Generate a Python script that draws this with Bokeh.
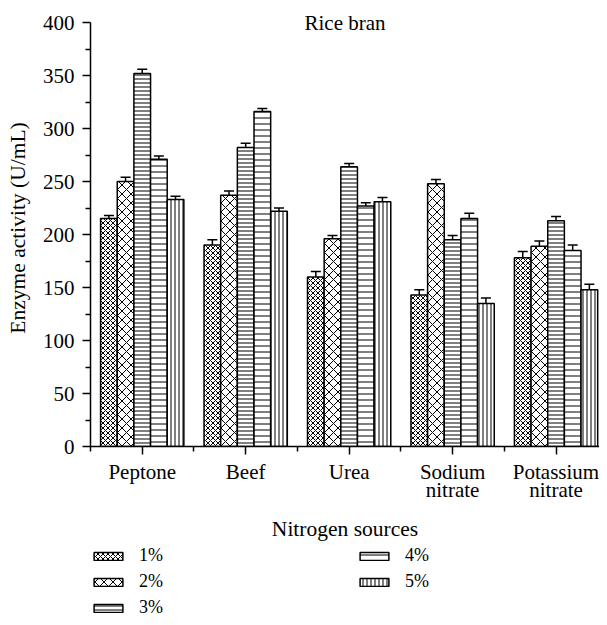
from bokeh.plotting import figure
from bokeh.layouts import column
from bokeh.models import (ColumnDataSource, FixedTicker, Range1d, Legend, LegendItem,
                          Whisker, TeeHead, Label)
from bokeh.embed import file_html
from bokeh.resources import INLINE

# ---- data ----
categories = ["Peptone", "Beef", "Urea", "Sodium\nnitrate", "Potassium\nnitrate"]
series_labels = ["1%", "2%", "3%", "4%", "5%"]

act_1pct = [215, 190, 160, 143, 178]
act_2pct = [250, 237, 196, 248, 189]
act_3pct = [352, 282, 264, 195, 213]
act_4pct = [271, 316, 227, 215, 185]
act_5pct = [233, 222, 231, 135, 148]

err_1pct = [3, 5, 5, 5, 6]
err_2pct = [4, 4, 3, 4, 5]
err_3pct = [4, 4, 3, 4, 4]
err_4pct = [3, 3, 3, 5, 5]
err_5pct = [3, 3, 4, 5, 5]

y_ticks = [0, 50, 100, 150, 200, 250, 300, 350, 400]

# ---- styles ----
FONT = "Liberation Serif"
hatches = [("diagonal_cross", 5), ("diagonal_cross", 9), ("horizontal_line", 4),
           ("horizontal_line", 6), ("vertical_line", 4)]
BAR_W = 0.161
W = 599

p = figure(width=W, height=545, x_range=Range1d(0, 4.92), y_range=Range1d(0, 412.3),
           output_backend="svg", toolbar_location=None,
           min_border_left=90, min_border_right=0, min_border_top=9, min_border_bottom=99)
p.outline_line_color = None
p.xgrid.visible = False
p.ygrid.visible = False

centers = [i + 0.5 for i in range(len(categories))]
all_vals = [act_1pct, act_2pct, act_3pct, act_4pct, act_5pct]
all_errs = [err_1pct, err_2pct, err_3pct, err_4pct, err_5pct]

# legend-only figure (below the chart); its ranges lie away from all data,
# so its renderers only provide the legend swatches
p2 = figure(width=W, height=72, x_range=Range1d(-101, -100), y_range=Range1d(1000, 1001),
            output_backend="svg", toolbar_location=None,
            x_axis_location=None, y_axis_location=None,
            min_border_left=90, min_border_right=0, min_border_top=0, min_border_bottom=0)
p2.outline_line_color = None
p2.xgrid.visible = False
p2.ygrid.visible = False

items = []
for j, (vals, errs, lab) in enumerate(zip(all_vals, all_errs, series_labels)):
    xs = [c + (j - 2) * BAR_W for c in centers]
    src = ColumnDataSource(dict(x=xs, top=vals,
                                lower=[v - e for v, e in zip(vals, errs)],
                                upper=[v + e for v, e in zip(vals, errs)]))
    pat, sc = hatches[j]
    style = dict(fill_color="white", line_color="black", line_width=1.5,
                 hatch_pattern=pat, hatch_scale=sc, hatch_weight=1, hatch_color="black")
    p.vbar(x="x", top="top", bottom=0, width=BAR_W, source=src, **style)
    w = Whisker(base="x", lower="lower", upper="upper", source=src, dimension="height",
                line_color="black", line_width=1.5,
                upper_head=TeeHead(size=10, line_width=1.5, line_color="black"),
                lower_head=TeeHead(size=10, line_width=1.5, line_color="black"))
    p.add_layout(w)
    r2 = p2.vbar(x="x", top="top", bottom=0, width=BAR_W, source=src, **style)
    items.append(LegendItem(label=lab, renderers=[r2]))

# ---- axes ----
for ax in (p.xaxis[0], p.yaxis[0]):
    ax.axis_line_width = 1.5
    ax.major_tick_line_width = 1.5
    ax.minor_tick_line_width = 1.5
    ax.major_tick_in = 0
    ax.minor_tick_in = 0
    ax.major_tick_out = 8
    ax.minor_tick_out = 5
    ax.major_label_text_font = FONT
    ax.major_label_text_font_size = "21px"
    ax.major_label_text_color = "black"
    ax.axis_label_text_font = FONT
    ax.axis_label_text_font_size = "21.5px"
    ax.axis_label_text_font_style = "normal"
    ax.axis_label_text_color = "black"

p.xaxis.ticker = FixedTicker(ticks=centers, minor_ticks=[0, 1, 2, 3, 4, 5])
p.xaxis.major_label_overrides = {c: name for c, name in zip(centers, categories)}
p.xaxis.major_label_text_line_height = 0.78
p.xaxis.major_label_standoff = 5
p.xaxis.axis_label = "Nitrogen sources"
p.xaxis.axis_label_standoff = 12

p.yaxis.ticker = FixedTicker(ticks=y_ticks, minor_ticks=[t + 25 for t in y_ticks[:-1]])
p.yaxis.bounds = (0, 400)
p.yaxis.major_label_standoff = 8
p.yaxis.axis_label = "Enzyme activity (U/mL)"
p.yaxis.axis_label_standoff = 10

p.add_layout(Label(x=2.46, y=400, text="Rice bran", text_align="center",
                   text_baseline="middle", text_font=FONT, text_font_size="21px",
                   text_color="black"))

legend = Legend(items=items, nrows=3, orientation="vertical", location="top_left",
                glyph_width=36, glyph_height=10, label_standoff=13, spacing=5,
                label_height=18, label_width=212, padding=0, margin=0,
                border_line_color=None, background_fill_alpha=0,
                label_text_font=FONT, label_text_font_size="18px",
                label_text_color="black")
p2.add_layout(legend, "center")

open("out.html", "w").write(file_html(column(p, p2, spacing=0), INLINE))
